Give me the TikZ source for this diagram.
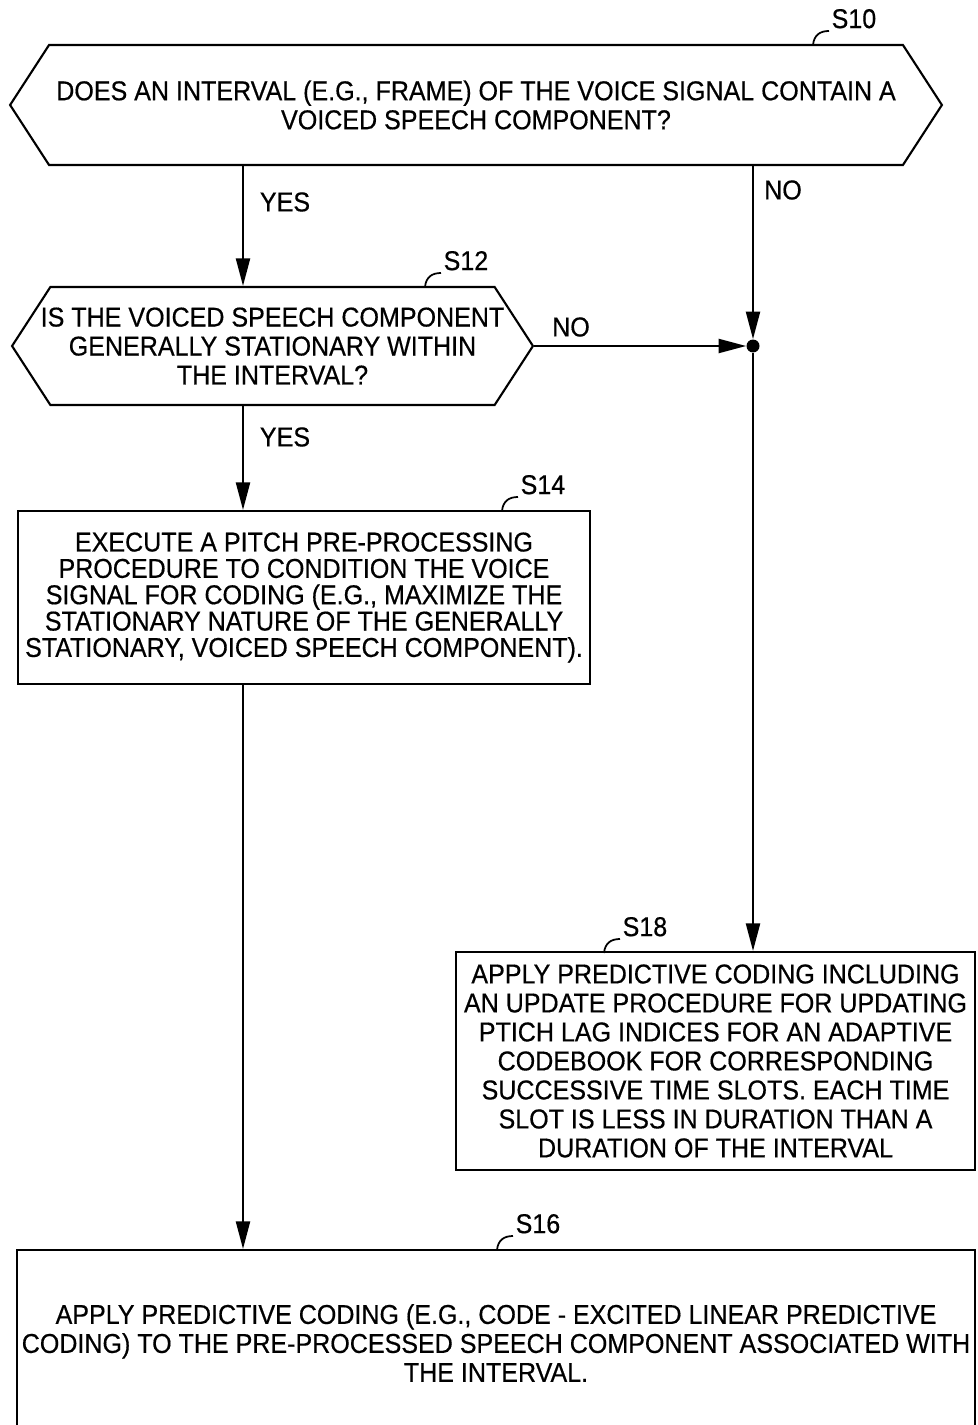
\documentclass[tikz,border=0pt]{standalone}
\usepackage{fontspec}
\setmainfont{Liberation Sans}[FakeStretch=0.92, FakeBold=0.5]
\usetikzlibrary{shapes.symbols,arrows.meta}

\tikzset{
	question/.style={draw, line width=1.2pt, signal, signal to=west and east,
		signal pointer angle=114, align=center, inner sep=0pt},
	process/.style={draw, line width=1.2pt, rectangle, align=center, inner sep=0pt},
	arr/.style={line width=1.2pt, -{Triangle[length=5.5mm,width=2.8mm]}},
	tag/.style={line width=1pt},
	ans/.style={inner sep=0pt},
}

\begin{document}
\begin{tikzpicture}[x=0.02cm, y=-0.02cm, font=\fontsize{15.5}{16.5}\selectfont]
	\useasboundingbox (0,0) rectangle (977,1425);
	\clip (0,0) rectangle (977,1425);

	% decisions
	\node[question, minimum width=18.64cm, minimum height=2.4cm] (q10) at (476,105)
		{DOES AN INTERVAL (E.G., FRAME) OF THE VOICE SIGNAL CONTAIN A\\VOICED SPEECH COMPONENT?};
	\node[question, inner xsep=-10pt, minimum width=10.42cm, minimum height=2.36cm] (q12) at (272.5,346)
		{IS THE VOICED SPEECH COMPONENT\\GENERALLY STATIONARY WITHIN\\THE INTERVAL?};

	% steps
	\node[process, minimum width=11.44cm, minimum height=3.46cm, font=\fontsize{15.5}{15}\selectfont] (p14) at (304,597.5)
		{EXECUTE A PITCH PRE-PROCESSING\\PROCEDURE TO CONDITION THE VOICE\\SIGNAL FOR CODING (E.G., MAXIMIZE THE\\STATIONARY NATURE OF THE GENERALLY\\STATIONARY, VOICED SPEECH COMPONENT).};
	\node[process, minimum width=10.38cm, minimum height=4.36cm] (p18) at (715.5,1061)
		{APPLY PREDICTIVE CODING INCLUDING\\AN UPDATE PROCEDURE FOR UPDATING\\PTICH LAG INDICES FOR AN ADAPTIVE\\CODEBOOK FOR CORRESPONDING\\SUCCESSIVE TIME SLOTS. EACH TIME\\SLOT IS LESS IN DURATION THAN A\\DURATION OF THE INTERVAL};
	\node[process, minimum width=19.16cm, minimum height=3.72cm] (p16) at (496,1343)
		{APPLY PREDICTIVE CODING (E.G., CODE - EXCITED LINEAR PREDICTIVE\\CODING) TO THE PRE-PROCESSED SPEECH COMPONENT ASSOCIATED WITH\\THE INTERVAL.};

	\coordinate (lane) at (243,0);
	\node[circle, fill, inner sep=0pt, minimum size=2.6mm] (j) at (753,346) {};

	% step tags
	\draw[tag] (813,45) .. controls (814,35) and (820,31) .. (829,31) node[anchor=south west, inner sep=1pt] {S10};
	\draw[tag] (425,287) .. controls (426,277) and (432,273) .. (441,273) node[anchor=south west, inner sep=1pt] {S12};
	\draw[tag] (502,511) .. controls (503,501) and (509,497) .. (518,497) node[anchor=south west, inner sep=1pt] {S14};
	\draw[tag] (604,953) .. controls (605,943) and (611,939) .. (620,939) node[anchor=south west, inner sep=1pt] {S18};
	\draw[tag] (497,1250) .. controls (498,1240) and (504,1236) .. (513,1236) node[anchor=south west, inner sep=1pt] {S16};

	% flow
	\draw[arr] (q10.south -| lane) -- (q12.north -| lane);
	\draw[arr] (q12.south -| lane) -- (p14.north -| lane);
	\draw[arr] (p14.south -| lane) -- (p16.north -| lane);
	\draw[arr] (q10.south -| j) -- (j);
	\draw[arr] (q12.east) -- (j);
	\draw[arr] (j) -- (p18.north -| j);

	\node[ans] (yes1) at (285,202) {YES};
	\node[ans] (yes2) at (285,437) {YES};
	\node[ans] (no1) at (783,190) {NO};
	\node[ans] (no2) at (571,327) {NO};
\end{tikzpicture}
\end{document}
